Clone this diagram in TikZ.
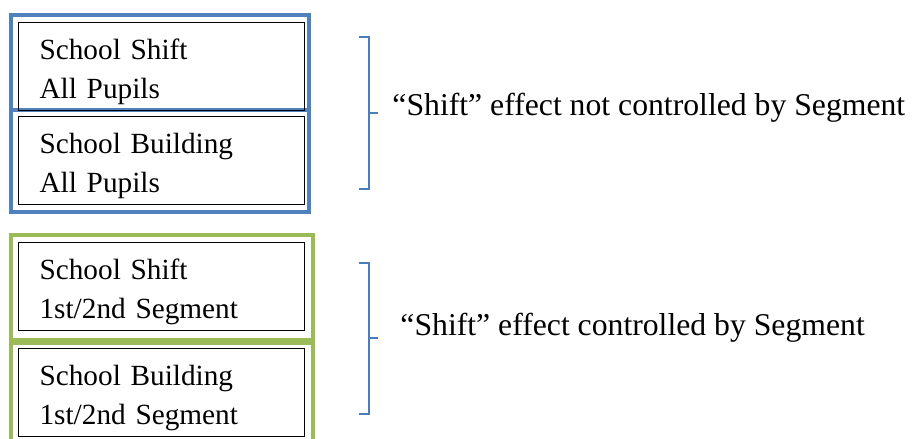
\documentclass[tikz,border=0pt]{standalone}
\usepackage{fontspec}
\setmainfont{Liberation Serif}
\usepackage{xcolor}
\usetikzlibrary{positioning}
\definecolor{frameblue}{RGB}{79,129,189}
\definecolor{framegreen}{RGB}{155,187,89}
\definecolor{bracketblue}{RGB}{74,126,187}

\begin{document}
\begin{tikzpicture}[
    x=0.41pt, y=-0.41pt,
    cell/.style={rectangle, draw=black, line width=0.5pt, anchor=north west, text width=100pt, inner xsep=8.6pt, inner ysep=0pt, text height=15.2pt, text depth=20.9pt, align=left, font=\fontsize{12}{16}\selectfont},
    bluebox/.style={draw=frameblue, line width=1.7pt},
    greenbox/.style={draw=framegreen, line width=1.8pt},
    bracket/.style={draw=bracketblue, line width=0.8pt},
    note/.style={anchor=base west, inner sep=0pt, font=\fontsize{13}{15}\selectfont}
]
\useasboundingbox (0,0) rectangle (912,439);

% ========== BLOQUE 1: ALL PUPILS ==========
\draw[bluebox] (11,15) rectangle (309,110);
\draw[bluebox] (11,110) rectangle (309,212);
\node[cell] (shiftall) at (18,22) {School Shift \\ All Pupils};
\node[cell] (buildall) at (18,116) {School Building \\ All Pupils};

% ========== BLOQUE 2: SEGMENT ==========
\draw[greenbox] (11,235) rectangle (313,340);
\draw[greenbox] (11,343) rectangle (313,450);
\node[cell] (shiftseg) at (18,242) {School Shift \\ 1st/2nd Segment};
\node[cell] (buildseg) at (18,348) {School Building \\ 1st/2nd Segment};

% ========== LLAVES Y NOTAS ==========
\node[note] (noteall) at (392,115) {“Shift” effect not controlled by Segment};
\node[note] (noteseg) at (400,335) {“Shift” effect controlled by Segment};

\coordinate (tipall) at (378,113);
\coordinate (tipseg) at (378,338);
\draw[bracket] (359,37) -- (369,37) -- (369,189) -- (359,189);
\draw[bracket] (369,113) -- (tipall);
\draw[bracket] (359,263) -- (369,263) -- (369,414) -- (359,414);
\draw[bracket] (369,338) -- (tipseg);

\end{tikzpicture}
\end{document}
